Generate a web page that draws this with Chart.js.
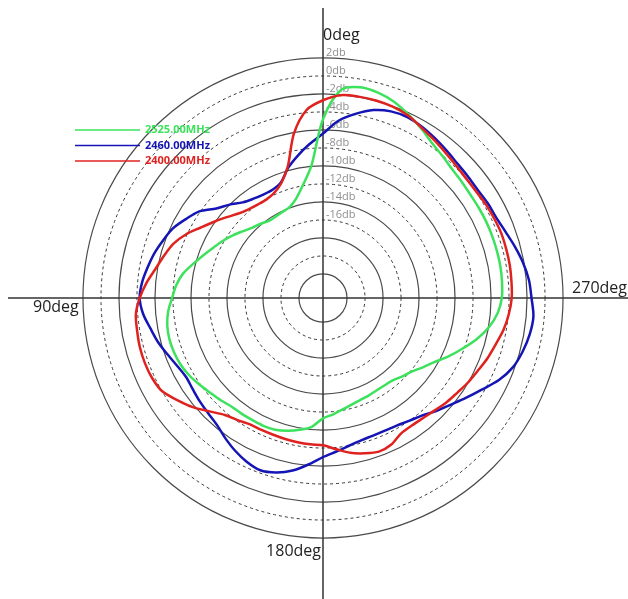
<!DOCTYPE html>
<html>
<head>
<meta charset="utf-8">
<script src="https://cdn.jsdelivr.net/npm/chart.js@4.4.1/dist/chart.umd.min.js"></script>
<style>
  html, body { margin: 0; padding: 0; background: #fff; }
  canvas { display: block; }
</style>
</head>
<body>
<canvas id="myChart" width="628" height="599"></canvas>
<script>
// angle in degrees, counter-clockwise from the top (0deg up, 90deg left)
var angles = [0, 5, 10, 15, 20, 25, 30, 35, 40, 45, 50, 55, 60, 65, 70, 75, 80, 85,
  90, 95, 100, 105, 110, 115, 120, 125, 130, 135, 140, 145, 150, 155, 160, 165, 170, 175,
  180, 185, 190, 195, 200, 205, 210, 215, 220, 225, 230, 235, 240, 245, 250, 255, 260, 265,
  270, 275, 280, 285, 290, 295, 300, 305, 310, 315, 320, 325, 330, 335, 340, 345, 350, 355];

// gain in db
var green2525 = [-4.8, -9.9, -11.9, -13.2, -13.9, -14.1, -14.2, -14.2, -13.9, -13.6, -13.1, -12.5,
  -11.9, -11.3, -10.6, -9.8, -8.9, -8.3, -7.9, -7.4, -7.1, -7.0, -7.05, -7.2,
  -7.5, -7.9, -8.3, -8.6, -8.9, -8.95, -9.0, -9.0, -9.1, -9.4, -9.8, -10.3,
  -11.3, -11.7, -12.1, -12.4, -12.6, -12.7, -12.8, -12.8, -12.7, -12.3, -11.9, -11.2,
  -10.4, -9.3, -8.2, -7.0, -5.95, -5.2, -4.8, -4.7, -4.65, -4.65, -4.65, -4.65,
  -4.67, -4.67, -4.56, -4.4, -4.05, -3.6, -2.9, -2.2, -1.5, -1.05, -0.9, -1.45];

var blue2460 = [-6.4, -7.5, -8.6, -9.7, -11.0, -11.4, -11.4, -11.2, -10.8, -10.0, -9.2, -7.9,
  -7.1, -6.3, -5.8, -5.3, -4.9, -4.5, -4.3, -4.6, -5.2, -5.7, -6.3, -6.8,
  -7.1, -7.0, -6.8, -6.6, -6.3, -5.7, -5.1, -4.6, -4.3, -4.6, -5.2, -6.1,
  -7.0, -7.55, -8.0, -8.3, -8.4, -8.4, -8.3, -8.0, -7.6, -6.9, -6.2, -5.3,
  -4.3, -3.1, -2.2, -1.7, -1.35, -1.2, -1.5, -1.7, -2.1, -2.6, -3.1, -3.45,
  -3.55, -3.7, -3.65, -3.55, -3.3, -3.0, -2.7, -2.5, -2.6, -3.05, -3.9, -4.9];

var red2400 = [-2.7, -3.7, -6.1, -9.55, -11.1, -11.8, -12.05, -12.0, -11.8, -11.4, -10.7, -9.9,
  -9.0, -7.9, -7.0, -6.4, -5.8, -5.0, -4.3, -3.8, -3.7, -3.6, -3.6, -3.7,
  -4.0, -4.9, -5.8, -6.85, -7.7, -8.1, -8.45, -8.5, -8.5, -8.45, -8.4, -8.35,
  -8.3, -7.8, -7.2, -6.8, -6.5, -6.7, -7.3, -7.4, -7.3, -7.05, -6.7, -6.4,
  -6.0, -5.65, -5.2, -4.8, -4.3, -3.95, -3.7, -3.65, -3.6, -3.6, -3.6, -3.7,
  -3.8, -3.95, -3.95, -3.8, -3.55, -3.2, -2.8, -2.3, -2.05, -1.95, -1.95, -2.05];

var ringValues = [-22, -20, -18, -16, -14, -12, -10, -8, -6, -4, -2, 0, 2];
var dbLabels = [2, 0, -2, -4, -6, -8, -10, -12, -14, -16];
var seriesNames = ["2525.00MHz", "2460.00MHz", "2400.00MHz"];
var seriesColors = ["#3ce25c", "#1515b5", "#e0221f"];
var axisMin = -24.67;

// Chart.js goes clockwise, the reference goes counter-clockwise
function clockwise(arr) {
  var n = arr.length;
  return arr.map(function (v, i) { return arr[(n - i) % n]; });
}

var decorPlugin = {
  id: "decor",
  beforeDatasetsDraw: function (chart) {
    var s = chart.scales.r;
    var ctx = chart.ctx;
    var cx = s.xCenter, cy = s.yCenter;
    ctx.save();
    ctx.strokeStyle = "#333";
    ctx.lineWidth = 1.5;
    ctx.beginPath();
    ctx.moveTo(cx, 8);
    ctx.lineTo(cx, chart.height);
    ctx.moveTo(8, cy);
    ctx.lineTo(chart.width, cy);
    ctx.stroke();

    ctx.font = '11px "Open Sans"';
    ctx.fillStyle = "#8f8f8f";
    ctx.textAlign = "left";
    ctx.textBaseline = "middle";
    dbLabels.forEach(function (v) {
      var d = s.getDistanceFromCenterForValue(v + 0.6);
      ctx.fillText(v + "db", cx + 3, cy - d);
    });
    ctx.restore();
  },
  afterDatasetsDraw: function (chart) {
    var s = chart.scales.r;
    var ctx = chart.ctx;
    var cx = s.xCenter, cy = s.yCenter;
    ctx.save();
    ctx.font = '16px "Open Sans"';
    ctx.fillStyle = "#222";
    ctx.textBaseline = "alphabetic";
    ctx.textAlign = "left";
    ctx.fillText("0deg", cx, 40);
    ctx.fillText("90deg", 33, cy + 14);
    ctx.textAlign = "right";
    ctx.fillText("270deg", 627, cy - 5);
    ctx.fillText("180deg", cx - 2, 556);

    // legend
    ctx.font = 'bold 11px "Open Sans"';
    ctx.textAlign = "left";
    ctx.textBaseline = "middle";
    seriesNames.forEach(function (name, i) {
      var y = 130 + i * 15.5;
      ctx.strokeStyle = seriesColors[i];
      ctx.lineWidth = 1.5;
      ctx.beginPath();
      ctx.moveTo(75, y);
      ctx.lineTo(140, y);
      ctx.stroke();
      ctx.fillStyle = seriesColors[i];
      ctx.fillText(name, 145, y);
    });
    ctx.restore();
  }
};

document.addEventListener("DOMContentLoaded", function () {
  var ctx = document.getElementById("myChart").getContext("2d");
  window.myChart = new Chart(ctx, {
    type: "radar",
    data: {
      labels: clockwise(angles),
      datasets: [
        { label: seriesNames[2], data: clockwise(red2400), borderColor: seriesColors[2] },
        { label: seriesNames[0], data: clockwise(green2525), borderColor: seriesColors[0] },
        { label: seriesNames[1], data: clockwise(blue2460), borderColor: seriesColors[1] }
      ]
    },
    options: {
      responsive: false,
      animation: false,
      layout: { padding: { left: 79, right: 61, top: 54, bottom: 57 } },
      plugins: { legend: { display: false }, tooltip: { enabled: false } },
      elements: {
        point: { radius: 0, hoverRadius: 0 },
        line: { tension: 0.3, borderWidth: 2.5, fill: false }
      },
      scales: {
        r: {
          min: axisMin,
          max: axisMin + 244 / 9,
          bounds: "data",
          afterBuildTicks: function (scale) {
            scale.ticks = ringValues.map(function (v) { return { value: v }; });
          },
          ticks: { display: false },
          pointLabels: { display: false },
          angleLines: { display: false },
          grid: {
            circular: true,
            color: function (c) { return c.index % 2 ? "#333" : "#4a4a4a"; },
            lineWidth: function (c) { return c.index % 2 ? 1 : 1.2; }
          },
          border: {
            dash: function (c) { return c.index % 2 ? [3, 3] : []; }
          }
        }
      }
    },
    plugins: [decorPlugin]
  });
});
</script>
</body>
</html>
